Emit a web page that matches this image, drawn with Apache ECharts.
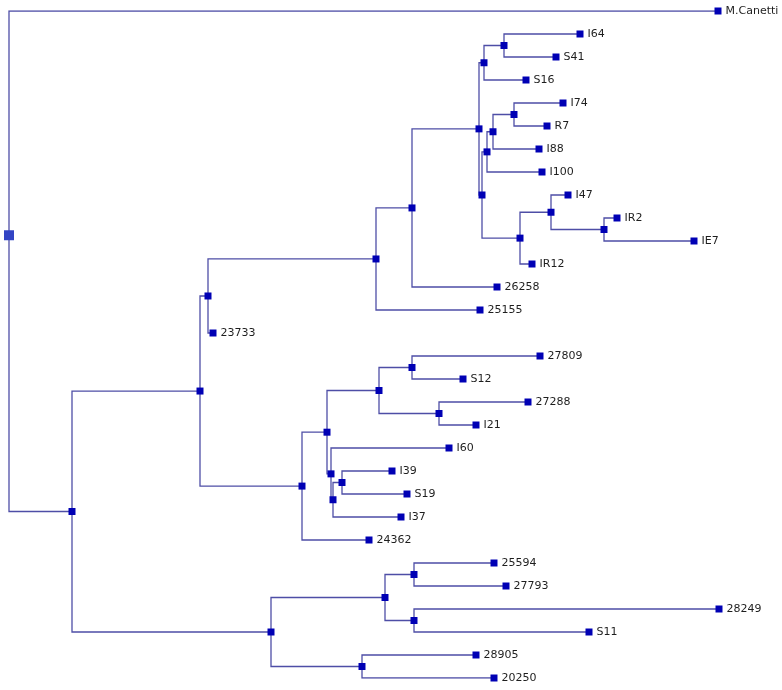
<!DOCTYPE html>
<html>
<head>
<meta charset="utf-8">
<script src="https://cdn.jsdelivr.net/npm/echarts@6/dist/echarts.min.js"></script>
<style>
    html, body { margin: 0; padding: 0; background: #fff; }
    #treeChart { width: 782px; height: 690px; }
</style>
</head>
<body>
<div id="treeChart"></div>
<script>
    // leaves, top to bottom; distance from root
    const leafNames = ['M.Canetti', 'I64', 'S41', 'S16', 'I74', 'R7', 'I88', 'I100', 'I47', 'IR2',
        'IE7', 'IR12', '26258', '25155', '23733', '27809', 'S12', '27288', 'I21', 'I60',
        'I39', 'S19', 'I37', '24362', '25594', '27793', '28249', 'S11', '28905', '20250']
    const leafDist = [718, 580, 556, 526, 563, 547, 539, 542, 568, 617,
        694, 532, 497, 480, 213, 540, 463, 528, 476, 449,
        392, 407, 401, 369, 494, 506, 719, 589, 476, 494]

    // internal nodes (children first), their distance and two children
    const nodeNames = ['U1', 'U2', 'U3', 'U4', 'U5', 'U9', 'U8', 'U7', 'U6', 'H', 'G', 'F', 'D',
        'E7', 'E6', 'E5', 'E3', 'E4', 'E2', 'E1', 'E', 'B', 'C2', 'C3', 'C1', 'C4', 'C', 'A', 'root']
    const nodeDist = [504, 484, 514, 493, 487, 604, 551, 520, 482, 479, 412, 376, 208,
        342, 333, 331, 412, 439, 379, 327, 302, 200, 414, 414, 385, 362, 271, 72, 9]
    const nodeKids = [
        ['I64', 'S41'], ['U1', 'S16'], ['I74', 'R7'], ['U3', 'I88'], ['U4', 'I100'],
        ['IR2', 'IE7'], ['I47', 'U9'], ['U8', 'IR12'], ['U5', 'U7'], ['U2', 'U6'],
        ['H', '26258'], ['G', '25155'], ['F', '23733'],
        ['I39', 'S19'], ['E7', 'I37'], ['I60', 'E6'], ['27809', 'S12'], ['27288', 'I21'],
        ['E3', 'E4'], ['E2', 'E5'], ['E1', '24362'], ['D', 'E'],
        ['25594', '27793'], ['28249', 'S11'], ['C2', 'C3'], ['28905', '20250'], ['C1', 'C4'],
        ['B', 'C'], ['M.Canetti', 'A']
    ]
    const rootRow = 9.75 // the root square sits here, not halfway

    let pos = {}
    leafNames.forEach((n, i) => { pos[n] = [leafDist[i], i] })
    nodeNames.forEach((n, i) => {
        let a = pos[nodeKids[i][0]], b = pos[nodeKids[i][1]]
        pos[n] = [nodeDist[i], n === 'root' ? rootRow : (a[1] + b[1]) / 2]
    })

    let edges = []
    nodeNames.forEach((n, i) => {
        let p = pos[n]
        nodeKids[i].forEach(k => {
            let c = pos[k]
            edges.push({coords: [[p[0], p[1]], [p[0], c[1]], [c[0], c[1]]]})
        })
    })

    let leafPoints = leafNames.map(n => ({name: n, value: pos[n]}))
    let innerPoints = nodeNames.filter(n => n !== 'root').map(n => ({name: n, value: pos[n]}))

    let myChart = echarts.init(document.getElementById('treeChart'))
    let options = {
        animation: false,
        grid: {left: 0, right: 0, top: 11, bottom: 12},
        xAxis: {type: 'value', min: 0, max: 782, show: false},
        yAxis: {type: 'value', min: 0, max: 29, inverse: true, show: false},
        series: [{
            type: 'lines',
            coordinateSystem: 'cartesian2d',
            polyline: true,
            silent: true,
            lineStyle: {color: '#4e4ea6', width: 1.3, opacity: 1},
            data: edges
        }, {
            type: 'scatter',
            symbol: 'rect',
            symbolSize: 7,
            itemStyle: {color: '#0000b4', opacity: 1},
            data: innerPoints
        }, {
            type: 'scatter',
            symbol: 'rect',
            symbolSize: 10,
            itemStyle: {color: '#3344c4', opacity: 1},
            data: [{name: 'root', value: pos['root']}]
        }, {
            type: 'scatter',
            symbol: 'rect',
            symbolSize: 7,
            itemStyle: {color: '#0000b4', opacity: 1},
            label: {
                show: true,
                position: 'right',
                distance: 4,
                formatter: '{b}',
                color: '#1e1e1e',
                fontSize: 11,
                fontFamily: 'DejaVu Sans'
            },
            data: leafPoints
        }]
    }
    myChart.setOption(options)
</script>
</body>
</html>
